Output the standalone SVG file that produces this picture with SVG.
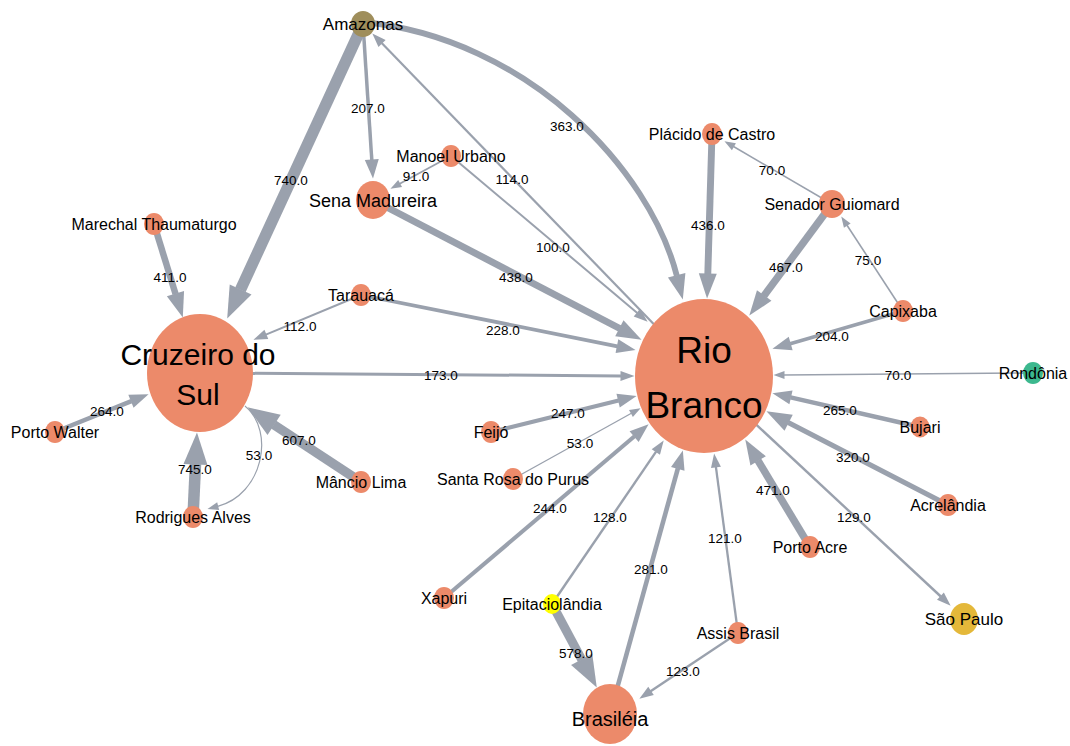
<svg xmlns="http://www.w3.org/2000/svg" width="1070" height="746" viewBox="0 0 1070 746">
<style>
.e{fill:none;stroke:#9aa1ad;stroke-linecap:butt}
.ah{fill:#9aa1ad}
.el{font-family:"Liberation Sans",Arial,sans-serif;font-size:13.5px;fill:#000;text-anchor:middle}
.n{fill:#ec8a6a}
.nl{font-family:"Liberation Sans",Arial,sans-serif;font-size:16px;fill:#000;text-anchor:middle}
.f17{font-size:17px}
.f18{font-size:18px}
.f20{font-size:20px}
.f30{font-size:30px}
.f37{font-size:37px}
</style>
<defs>
<marker id="m1" markerUnits="userSpaceOnUse" markerWidth="11" markerHeight="8" refX="0.5" refY="4" orient="auto" overflow="visible"><path class="ah" d="M0,0 L11,4 L0,8 z"/></marker>
<marker id="m2" markerUnits="userSpaceOnUse" markerWidth="14" markerHeight="10" refX="0.5" refY="5" orient="auto" overflow="visible"><path class="ah" d="M0,0 L14,5 L0,10 z"/></marker>
<marker id="m3" markerUnits="userSpaceOnUse" markerWidth="19" markerHeight="14" refX="0.5" refY="7" orient="auto" overflow="visible"><path class="ah" d="M0,0 L19,7 L0,14 z"/></marker>
<marker id="m4" markerUnits="userSpaceOnUse" markerWidth="25" markerHeight="18" refX="0.5" refY="9" orient="auto" overflow="visible"><path class="ah" d="M0,0 L25,9 L0,18 z"/></marker>
<marker id="m5" markerUnits="userSpaceOnUse" markerWidth="32" markerHeight="24" refX="0.5" refY="12" orient="auto" overflow="visible"><path class="ah" d="M0,0 L32,12 L0,24 z"/></marker>
</defs>
<rect width="1070" height="746" fill="#fff"/>
<g id="connectors">
<path class="e" d="M363,24 L240.4,289.9" stroke-width="11.4" marker-end="url(#m5)"/>
<path class="e" d="M363,24 L371.8,160" stroke-width="3.5" marker-end="url(#m3)"/>
<path class="e" d="M363,22 C528,38 650,170 676.8,275.8" stroke-width="5.8" marker-end="url(#m4)"/>
<path class="e" d="M704,376 L381.7,43.1" stroke-width="2.2" marker-end="url(#m2)"/>
<path class="e" d="M451,156 L399.7,183.8" stroke-width="1.8" marker-end="url(#m1)"/>
<path class="e" d="M451,156 L637.3,313" stroke-width="2" marker-end="url(#m2)"/>
<path class="e" d="M373,200 L619.8,328.5" stroke-width="6.9" marker-end="url(#m4)"/>
<path class="e" d="M361,295 L617.4,346.3" stroke-width="3.8" marker-end="url(#m3)"/>
<path class="e" d="M361,295 L265.9,334.6" stroke-width="2.1" marker-end="url(#m2)"/>
<path class="e" d="M200,373 L621,375.9" stroke-width="3" marker-end="url(#m2)"/>
<path class="e" d="M154,224 L175.6,294.1" stroke-width="6.5" marker-end="url(#m4)"/>
<path class="e" d="M55,432 L131.4,401.1" stroke-width="4.4" marker-end="url(#m3)"/>
<path class="e" d="M193,517 L195.5,464" stroke-width="11.5" marker-end="url(#m5)"/>
<path class="e" d="M245,406 C276,432 262,495 217.7,506.3" stroke-width="1.2" marker-end="url(#m1)"/>
<path class="e" d="M361,482 L273.7,424.6" stroke-width="9.4" marker-end="url(#m5)"/>
<path class="e" d="M491,432 L618.6,400.5" stroke-width="4.1" marker-end="url(#m3)"/>
<path class="e" d="M513,479 L631.4,413.3" stroke-width="1.3" marker-end="url(#m1)"/>
<path class="e" d="M444,598 L634.5,436.3" stroke-width="4.1" marker-end="url(#m3)"/>
<path class="e" d="M552,604 L656.1,451.6" stroke-width="2.4" marker-end="url(#m2)"/>
<path class="e" d="M552,604 L581.9,659.8" stroke-width="9" marker-end="url(#m5)"/>
<path class="e" d="M610,714 L677.9,468.3" stroke-width="4.6" marker-end="url(#m3)"/>
<path class="e" d="M738,633 L715.9,466.9" stroke-width="2.3" marker-end="url(#m2)"/>
<path class="e" d="M738,633 L650.6,691.2" stroke-width="2.3" marker-end="url(#m2)"/>
<path class="e" d="M810,547 L757.9,460.4" stroke-width="7.4" marker-end="url(#m4)"/>
<path class="e" d="M704,376 L940.8,596.5" stroke-width="2.4" marker-end="url(#m2)"/>
<path class="e" d="M948,505 L788.2,422.5" stroke-width="5.2" marker-end="url(#m4)"/>
<path class="e" d="M920,427 L790.5,397.3" stroke-width="4.4" marker-end="url(#m3)"/>
<path class="e" d="M1033,373 L784,374.9" stroke-width="1.5" marker-end="url(#m1)"/>
<path class="e" d="M903,311 L790.2,343.7" stroke-width="3.5" marker-end="url(#m3)"/>
<path class="e" d="M903,311 L847,225.2" stroke-width="1.6" marker-end="url(#m1)"/>
<path class="e" d="M832,204 L733.5,146.5" stroke-width="1.5" marker-end="url(#m1)"/>
<path class="e" d="M832,204 L763.9,295.9" stroke-width="7.4" marker-end="url(#m4)"/>
<path class="e" d="M712,134 L707.8,274" stroke-width="6.9" marker-end="url(#m4)"/>
<g id="edge-labels">
<text class="el" x="291" y="185">740.0</text>
<text class="el" x="368" y="113">207.0</text>
<text class="el" x="567" y="131">363.0</text>
<text class="el" x="512" y="184">114.0</text>
<text class="el" x="416" y="181">91.0</text>
<text class="el" x="553" y="252">100.0</text>
<text class="el" x="516" y="282">438.0</text>
<text class="el" x="503" y="335">228.0</text>
<text class="el" x="300" y="331">112.0</text>
<text class="el" x="441" y="380">173.0</text>
<text class="el" x="170" y="282">411.0</text>
<text class="el" x="107" y="416">264.0</text>
<text class="el" x="195" y="474">745.0</text>
<text class="el" x="259" y="460">53.0</text>
<text class="el" x="299" y="445">607.0</text>
<text class="el" x="568" y="418">247.0</text>
<text class="el" x="580" y="448">53.0</text>
<text class="el" x="550" y="513">244.0</text>
<text class="el" x="610" y="522">128.0</text>
<text class="el" x="576" y="658">578.0</text>
<text class="el" x="651" y="574">281.0</text>
<text class="el" x="725" y="543">121.0</text>
<text class="el" x="683" y="676">123.0</text>
<text class="el" x="773" y="495">471.0</text>
<text class="el" x="854" y="522">129.0</text>
<text class="el" x="853" y="462">320.0</text>
<text class="el" x="840" y="415">265.0</text>
<text class="el" x="898" y="380">70.0</text>
<text class="el" x="832" y="341">204.0</text>
<text class="el" x="868" y="265">75.0</text>
<text class="el" x="772" y="175">70.0</text>
<text class="el" x="786" y="272">467.0</text>
<text class="el" x="708" y="230">436.0</text>
</g>
</g>
<g id="node-cruzeiro-do-sul"><ellipse class="n" cx="200" cy="373" rx="53" ry="59"/><text class="nl f30" x="198" y="365">Cruzeiro do</text><text class="nl f30" x="198" y="405">Sul</text></g>
<g id="node-rio-branco"><ellipse class="n" cx="704" cy="376" rx="69" ry="77"/><text class="nl f37" x="704" y="363">Rio</text><text class="nl f37" x="704" y="418">Branco</text></g>
<g id="node-amazonas"><ellipse cx="363" cy="24" rx="12" ry="13" fill="#9f8e5b"/><text class="nl f17" x="363" y="30">Amazonas</text></g>
<g id="node-sena-madureira"><ellipse class="n" cx="373" cy="200" rx="17" ry="19"/><text class="nl f18" x="373" y="207">Sena Madureira</text></g>
<g id="node-manoel-urbano"><ellipse class="n" cx="451" cy="156" rx="10" ry="11"/><text class="nl" x="451" y="162">Manoel Urbano</text></g>
<g id="node-placido-de-castro"><ellipse class="n" cx="712" cy="134" rx="10" ry="11"/><text class="nl" x="712" y="140">Plácido de Castro</text></g>
<g id="node-senador-guiomard"><ellipse class="n" cx="832" cy="204" rx="13" ry="14"/><text class="nl" x="832" y="210">Senador Guiomard</text></g>
<g id="node-capixaba"><ellipse class="n" cx="903" cy="311" rx="10" ry="11"/><text class="nl" x="903" y="317">Capixaba</text></g>
<g id="node-rondonia"><ellipse cx="1033" cy="373" rx="10" ry="11" fill="#3cb88e"/><text class="nl" x="1033" y="379">Rondônia</text></g>
<g id="node-bujari"><ellipse class="n" cx="920" cy="427" rx="9.5" ry="10.5"/><text class="nl" x="920" y="433">Bujari</text></g>
<g id="node-acrelandia"><ellipse class="n" cx="948" cy="505" rx="10" ry="11"/><text class="nl" x="948" y="511">Acrelândia</text></g>
<g id="node-porto-acre"><ellipse class="n" cx="810" cy="547" rx="10" ry="11"/><text class="nl" x="810" y="553">Porto Acre</text></g>
<g id="node-sao-paulo"><ellipse cx="964" cy="619" rx="14" ry="16" fill="#e4b83a"/><text class="nl f17" x="964" y="625">São Paulo</text></g>
<g id="node-assis-brasil"><ellipse class="n" cx="738" cy="633" rx="10" ry="11"/><text class="nl" x="738" y="639">Assis Brasil</text></g>
<g id="node-brasileia"><ellipse class="n" cx="610" cy="714" rx="27" ry="30"/><text class="nl f20" x="610" y="726">Brasiléia</text></g>
<g id="node-epitaciolandia"><ellipse cx="552" cy="604" rx="9" ry="10" fill="#ffff00"/><text class="nl" x="552" y="610">Epitaciolândia</text></g>
<g id="node-xapuri"><ellipse class="n" cx="444" cy="598" rx="10" ry="11"/><text class="nl" x="444" y="604">Xapuri</text></g>
<g id="node-santa-rosa-do-purus"><ellipse class="n" cx="513" cy="479" rx="10" ry="11"/><text class="nl" x="513" y="485">Santa Rosa do Purus</text></g>
<g id="node-feijo"><ellipse class="n" cx="491" cy="432" rx="10" ry="11"/><text class="nl" x="491" y="438">Feijó</text></g>
<g id="node-tarauaca"><ellipse class="n" cx="361" cy="295" rx="10" ry="11"/><text class="nl" x="361" y="301">Tarauacá</text></g>
<g id="node-marechal-thaumaturgo"><ellipse class="n" cx="154" cy="224" rx="10" ry="11"/><text class="nl" x="154" y="230">Marechal Thaumaturgo</text></g>
<g id="node-porto-walter"><ellipse class="n" cx="55" cy="432" rx="10" ry="11"/><text class="nl" x="55" y="438">Porto Walter</text></g>
<g id="node-rodrigues-alves"><ellipse class="n" cx="193" cy="517" rx="10" ry="11"/><text class="nl" x="193" y="523">Rodrigues Alves</text></g>
<g id="node-mancio-lima"><ellipse class="n" cx="361" cy="482" rx="10" ry="11"/><text class="nl" x="361" y="488">Mâncio Lima</text></g>
</svg>
